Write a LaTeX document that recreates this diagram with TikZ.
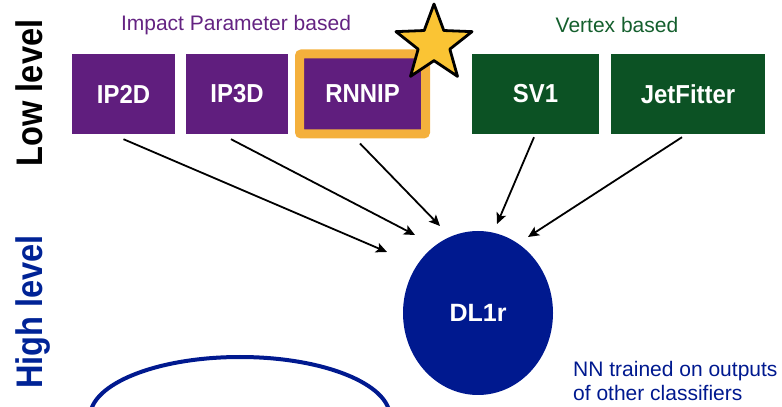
\documentclass[tikz,border=0pt]{standalone}
\usepackage{fontspec}
\usepackage{graphicx}
\setmainfont{Liberation Sans}
\usetikzlibrary{shapes.geometric,arrows.meta}
\definecolor{ipPurple}{RGB}{96,30,126}
\definecolor{vxGreen}{RGB}{12,82,36}
\definecolor{orangeB}{RGB}{244,176,60}
\definecolor{starY}{RGB}{250,196,52}
\definecolor{dlBlue}{RGB}{0,25,143}
\definecolor{txtPurple}{RGB}{100,35,130}
\definecolor{txtGreen}{RGB}{20,95,45}
\definecolor{hiBlue}{RGB}{0,35,150}
\newcommand{\boxtxt}[1]{\scalebox{0.92}[1]{#1}}
\newcommand{\lvltxt}[1]{\scalebox{0.88}[1]{#1}}
\tikzset{
  algbox/.style={rectangle, minimum height=80pt, inner sep=0pt, text=white,
    font=\fontsize{26}{29}\selectfont\bfseries},
  ipbox/.style={algbox, fill=ipPurple},
  vxbox/.style={algbox, fill=vxGreen},
  arr/.style={-{Stealth[length=11pt,width=10pt,inset=2.5pt]}, line width=1.8pt, black},
  grouplabel/.style={font=\fontsize{21}{24}\selectfont},
  levellabel/.style={rotate=90, font=\fontsize{37}{40}\selectfont\bfseries, inner sep=0pt}
}
\begin{document}
\begin{tikzpicture}[x=1pt,y=1pt]
\useasboundingbox (0,0) rectangle (782,407);
\begin{scope}
\clip (0,0) rectangle (782,407);
% boxes
\node[ipbox, minimum width=103pt] (ip2d) at (123.5,313) {\boxtxt{IP2D}};
\node[ipbox, minimum width=102pt] (ip3d) at (237,313) {\boxtxt{IP3D}};
\node[ipbox, minimum width=126pt, draw=orangeB, line width=9pt, rounded corners=2pt] (rnnip) at (362.5,313) {\boxtxt{RNNIP}};
\node[vxbox, minimum width=127pt] (sv1) at (535.5,313) {\boxtxt{SV1}};
\node[vxbox, minimum width=154pt] (jf) at (688,313) {\boxtxt{JetFitter}};
% star
\node[star, star points=5, star point ratio=2.4, minimum size=80pt, inner sep=0pt,
  draw=black, line width=2.8pt, line join=round, fill=starY] (star) at (434,363) {};
% group labels
\node[grouplabel, text=txtPurple] (iplab) at (236,382) {Impact Parameter based};
\node[grouplabel, text=txtGreen] (vxlab) at (617,382) {Vertex based};
% level labels
\node[levellabel, text=black, anchor=north] (low) at (15,314) {\lvltxt{Low level}};
\node[levellabel, text=hiBlue, anchor=north] (high) at (15,95) {\lvltxt{High level}};
% DL1r
\node[ellipse, fill=dlBlue, minimum width=150pt, minimum height=164pt, inner sep=0pt,
  text=white, font=\fontsize{25}{28}\selectfont\bfseries] (dl1r) at (478,94) {DL1r};
% note
\node[anchor=west, align=left, text=dlBlue, inner sep=0pt,
  font=\fontsize{21}{24}\selectfont] (note) at (573,26) {NN trained on outputs\\of other classifiers};
% big ellipse (cut by the bottom edge)
\node[ellipse, draw=dlBlue, line width=4pt, minimum width=300pt, minimum height=120pt, inner sep=0pt] (big) at (240,-10) {};
\end{scope}
% arrows
\draw[arr] ([yshift=-5pt]ip2d.south) -- ([shift={(-91pt,61pt)}]dl1r.center);
\draw[arr] ([xshift=-6pt,yshift=-5pt]ip3d.south) -- ([shift={(-63pt,78pt)}]dl1r.center);
\draw[arr] ([xshift=-2.5pt,yshift=-5pt]rnnip.south) -- ([shift={(-38pt,87pt)}]dl1r.center);
\draw[arr] ([xshift=-1.5pt,yshift=-3pt]sv1.south) -- ([shift={(19pt,89pt)}]dl1r.center);
\draw[arr] ([xshift=-6pt,yshift=-3pt]jf.south) -- ([shift={(50pt,76pt)}]dl1r.center);
\end{tikzpicture}
\end{document}
